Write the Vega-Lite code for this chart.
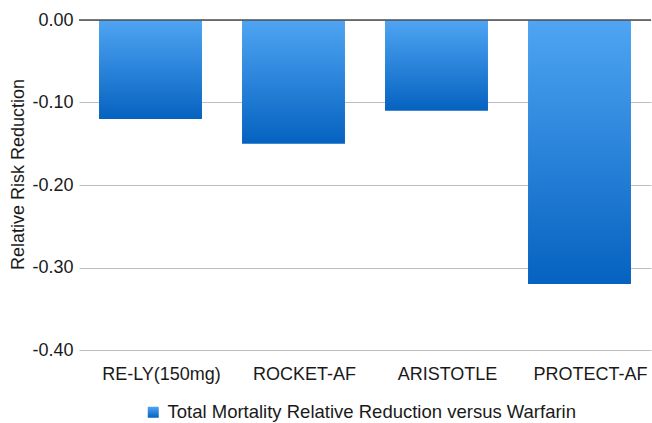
{
  "$schema": "https://vega.github.io/schema/vega-lite/v6.json",
  "width": 572,
  "height": 330,
  "autosize": "none",
  "padding": {"left": 79, "top": 20, "right": 1, "bottom": 73},
  "background": "white",
  "config": {
    "font": "Liberation Sans",
    "view": {"stroke": null}
  },
  "data": {
    "values": [
      {"trial": "RE-LY(150mg)", "rrr": -0.12, "series": "Total Mortality Relative Reduction versus Warfarin"},
      {"trial": "ROCKET-AF", "rrr": -0.15, "series": "Total Mortality Relative Reduction versus Warfarin"},
      {"trial": "ARISTOTLE", "rrr": -0.11, "series": "Total Mortality Relative Reduction versus Warfarin"},
      {"trial": "PROTECT-AF", "rrr": -0.32, "series": "Total Mortality Relative Reduction versus Warfarin"}
    ]
  },
  "layer": [
    {
      "mark": {
        "type": "bar",
        "color": {
          "gradient": "linear",
          "x1": 0, "y1": 0, "x2": 0, "y2": 1,
          "stops": [
            {"offset": 0, "color": "#4fa5f3"},
            {"offset": 1, "color": "#0562c0"}
          ]
        }
      },
      "encoding": {
        "x": {
          "field": "trial",
          "type": "nominal",
          "sort": null,
          "scale": {"paddingInner": 0.28, "paddingOuter": 0.14},
          "axis": {
            "title": null,
            "labelAngle": 0,
            "labelFontSize": 18,
            "labelColor": "#1a1a1a",
            "labelPadding": 15,
            "labelOffset": 11,
            "domain": false,
            "ticks": false
          }
        },
        "y": {
          "field": "rrr",
          "type": "quantitative",
          "scale": {"domain": [-0.4, 0], "nice": false, "zero": false},
          "axis": {
            "title": "Relative Risk Reduction",
            "titleFontSize": 18,
            "titleFontWeight": "normal",
            "titleColor": "#1a1a1a",
            "titlePadding": 4,
            "titleY": 154,
            "values": [0, -0.1, -0.2, -0.3, -0.4],
            "labelExpr": "replace(format(datum.value, '.2f'), '\u2212', '-')",
            "labelFontSize": 18,
            "labelColor": "#1a1a1a",
            "labelPadding": 6,
            "domain": false,
            "ticks": false,
            "gridColor": "#bdbdbd",
            "gridWidth": 1.2
          }
        },
        "opacity": {
          "field": "series",
          "type": "nominal",
          "scale": {"range": [1]},
          "legend": {
            "title": null,
            "orient": "none",
            "legendX": 65,
            "legendY": 383,
            "symbolType": "square",
            "symbolSize": 121,
            "symbolStrokeWidth": 0,
            "labelFontSize": 18.5,
            "labelColor": "#1a1a1a",
            "labelOffset": 5,
            "labelLimit": 600
          }
        }
      }
    },
    {
      "data": {"values": [{"base": 0}]},
      "mark": {"type": "rule", "color": "#4d4d4d", "strokeWidth": 1.5},
      "encoding": {
        "y": {"field": "base", "type": "quantitative"}
      }
    }
  ]
}
